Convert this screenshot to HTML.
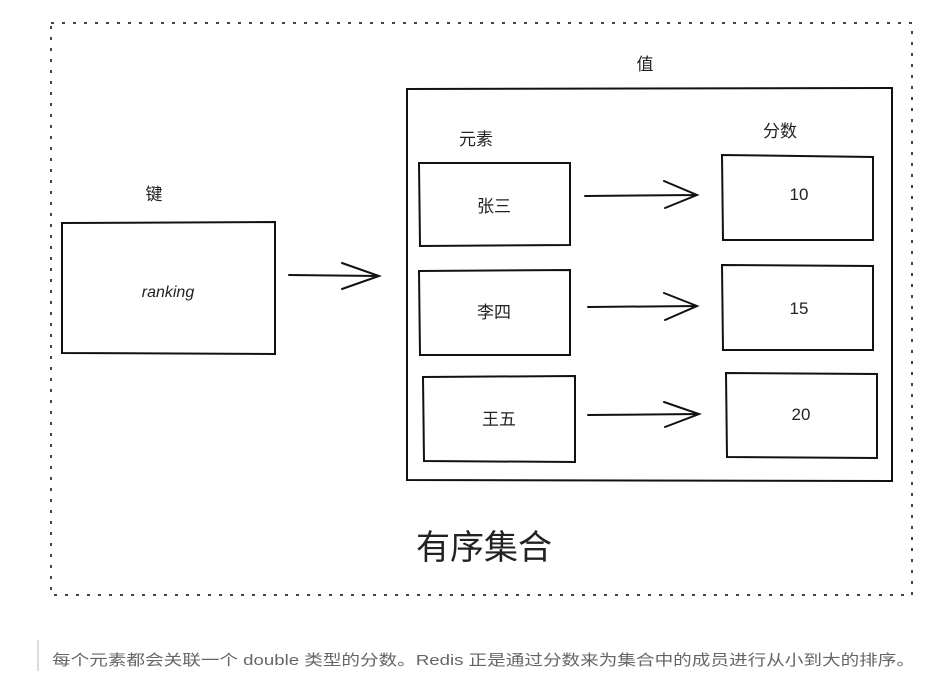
<!DOCTYPE html>
<html><head><meta charset="utf-8"><style>
html,body{margin:0;padding:0;background:#fff;}
svg{display:block;}
text{font-family:"Liberation Sans","Noto Sans CJK SC",sans-serif;}
</style></head><body>
<svg width="949" height="687" viewBox="0 0 949 687" xmlns="http://www.w3.org/2000/svg">
<rect x="51" y="23" width="861" height="572" fill="none" stroke="#444" stroke-width="2" stroke-dasharray="3 8"/>
<g fill="none" stroke="#111" stroke-width="2" stroke-linecap="round">
<path d="M62 223 L275 222 L275 354 L62 353 Z"/>
<path d="M407 89 L892 88 L892 481 L407 480 Z"/>
<path d="M419 163 L570 163 L570 245 L420 246 Z"/>
<path d="M419 271 L570 270 L570 355 L420 355 Z"/>
<path d="M423 377 L575 376 L575 462 L424 461 Z"/>
<path d="M722 155 L873 157 L873 240 L723 240 Z"/>
<path d="M722 265 L873 266 L873 350 L723 350 Z"/>
<path d="M726 373 L877 374 L877 458 L727 457 Z"/>
<path d="M289 275 L379 276 M342 263 L379 276 L342 289"/>
<path d="M585 196 L697 195 M664 181 L697 195 L665 208"/>
<path d="M588 307 L697 306 M664 293 L697 306 L665 320"/>
<path d="M588 415 L699 414 M664 402 L699 414 L665 427"/>
</g>
<g fill="#222" font-size="17">
<text x="154" y="200" text-anchor="middle">键</text>
<text x="645" y="70" text-anchor="middle">值</text>
<text x="476" y="145" text-anchor="middle">元素</text>
<text x="780" y="137" text-anchor="middle">分数</text>
<text x="494" y="212" text-anchor="middle">张三</text>
<text x="494" y="318" text-anchor="middle">李四</text>
<text x="499" y="425" text-anchor="middle">王五</text>
<text x="799" y="200" text-anchor="middle">10</text>
<text x="799" y="314" text-anchor="middle">15</text>
<text x="801" y="420" text-anchor="middle">20</text>
<text x="168" y="297" text-anchor="middle" font-size="16" font-style="italic">ranking</text>
<text x="484" y="559" text-anchor="middle" font-size="34">有序集合</text>
</g>
<rect x="37" y="640" width="2" height="31" fill="#ddd"/>
<text x="52" y="665" font-size="15" fill="#666" textLength="863" lengthAdjust="spacingAndGlyphs">每个元素都会关联一个 double 类型的分数。Redis 正是通过分数来为集合中的成员进行从小到大的排序。</text>
</svg>
</body></html>
